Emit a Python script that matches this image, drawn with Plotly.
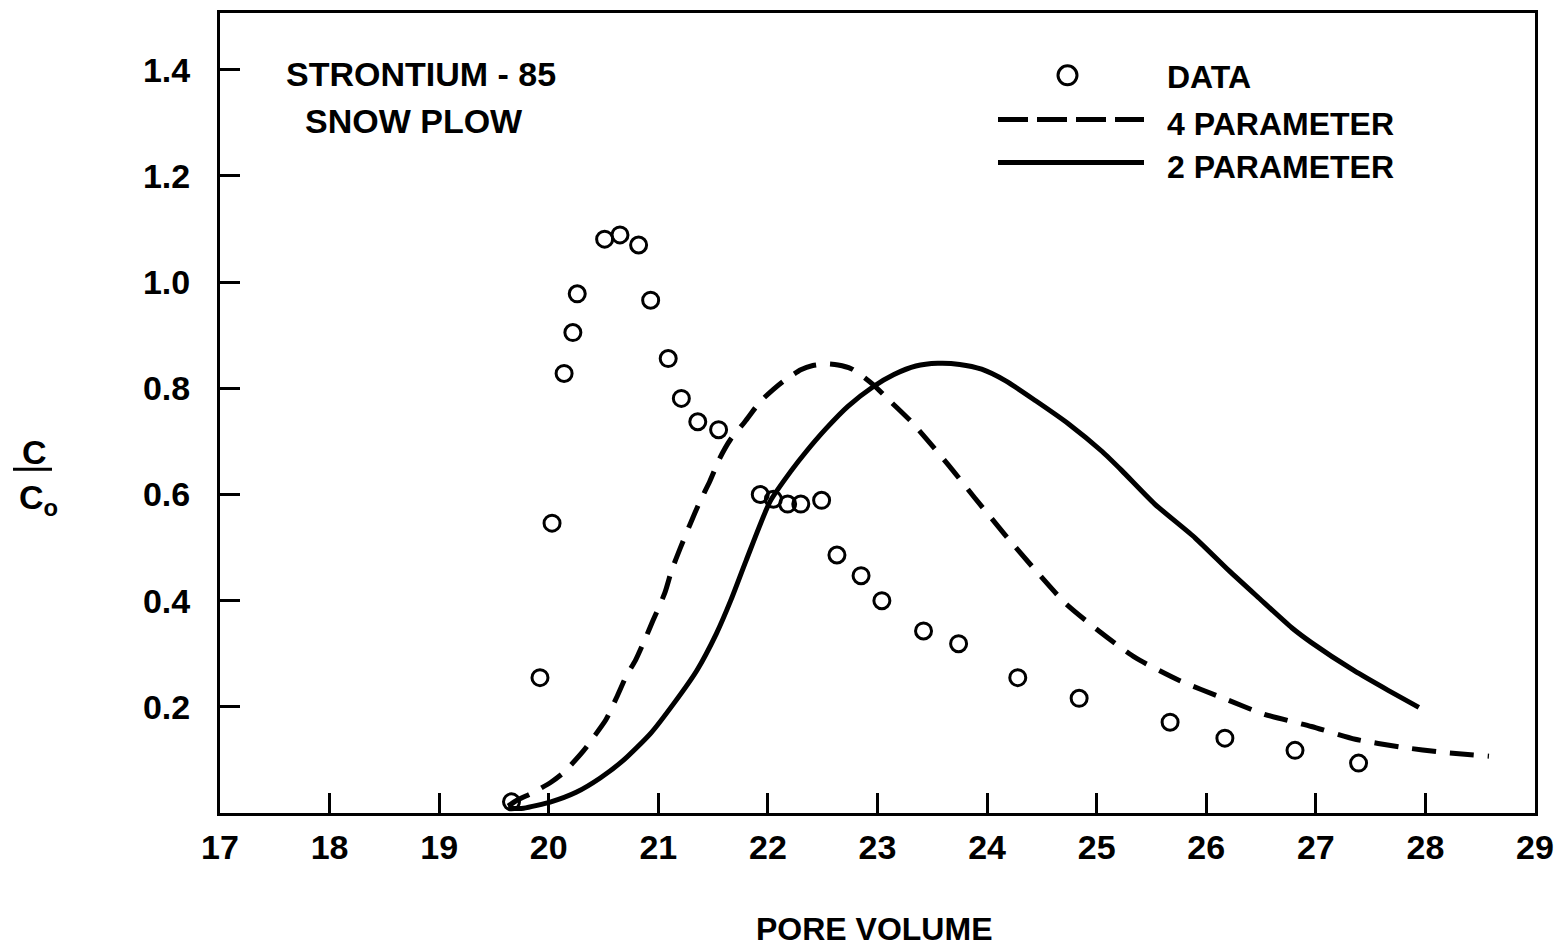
import plotly.graph_objects as go

# Measured breakthrough data (pore volume, C/C0)
data_pv = [19.66, 19.92, 20.03, 20.14, 20.22, 20.26, 20.51, 20.65, 20.82, 20.93,
           21.09, 21.21, 21.36, 21.55, 21.93, 22.05, 22.18, 22.30, 22.49, 22.63,
           22.85, 23.04, 23.42, 23.74, 24.28, 24.84, 25.67, 26.17, 26.81, 27.39]
data_c = [0.021, 0.255, 0.546, 0.828, 0.905, 0.978, 1.081, 1.089, 1.070, 0.966,
          0.856, 0.781, 0.737, 0.722, 0.600, 0.591, 0.582, 0.582, 0.589, 0.486,
          0.447, 0.400, 0.343, 0.319, 0.255, 0.216, 0.171, 0.141, 0.118, 0.094]

# 4-parameter model curve
fit4_pv = [19.63, 19.71, 19.86, 20.02, 20.14, 20.32, 20.41, 20.52, 20.62, 20.71,
           20.79, 20.88, 20.95, 21.06, 21.12, 21.20, 21.29, 21.38, 21.47, 21.56,
           21.66, 21.79, 21.93, 22.05, 22.14, 22.30, 22.41, 22.53, 22.64, 22.76,
           22.87, 22.96, 23.12, 23.30, 23.44, 23.65, 23.89, 24.16, 24.43,
           24.71, 25.02, 25.35, 25.75, 26.16, 26.53, 26.96, 27.36, 27.78, 28.17,
           28.58]
fit4_c = [0.013, 0.024, 0.039, 0.058, 0.077, 0.118, 0.143, 0.175, 0.218, 0.259,
          0.287, 0.328, 0.362, 0.415, 0.456, 0.499, 0.544, 0.587, 0.625, 0.668,
          0.704, 0.737, 0.775, 0.798, 0.813, 0.835, 0.843, 0.846, 0.844, 0.837,
          0.822, 0.807, 0.775, 0.739, 0.706, 0.655, 0.593, 0.525, 0.460,
          0.396, 0.343, 0.293, 0.250, 0.216, 0.186, 0.163, 0.139, 0.124, 0.114,
          0.107]

# 2-parameter model curve
fit2_pv = [19.63, 19.77, 20.02, 20.25, 20.47, 20.68, 20.93, 21.14, 21.35, 21.53,
           21.66, 21.80, 22.02, 22.21, 22.35, 22.53, 22.73, 22.96, 23.15, 23.35,
           23.55, 23.75, 23.95, 24.17, 24.44, 24.75, 25.05, 25.23, 25.53, 25.90,
           26.21, 26.48, 26.78, 26.96, 27.35, 27.66, 27.94]
fit2_c = [0.009, 0.009, 0.021, 0.039, 0.066, 0.099, 0.150, 0.206, 0.268, 0.338,
          0.400, 0.475, 0.587, 0.644, 0.681, 0.724, 0.766, 0.803, 0.826, 0.842,
          0.847, 0.845, 0.836, 0.814, 0.777, 0.732, 0.681, 0.645, 0.582, 0.518,
          0.456, 0.405, 0.349, 0.321, 0.268, 0.231, 0.199]

x_ticks = list(range(17, 30))
x_ticktext = ["<b>%d</b>" % v for v in x_ticks]
y_ticks = [0.2, 0.4, 0.6, 0.8, 1.0, 1.2, 1.4]
y_ticktext = ["<b>%.1f</b>" % v for v in y_ticks]

FONT = "Liberation Sans, Arial, sans-serif"
INK = "#000000"

W, H = 1566, 952
L, R, T, B = 220, 31, 10, 139
PW, PH = W - L - R, H - T - B


def px(x):
    return (x - L) / PW


def py(y):
    return (H - B - y) / PH


fig = go.Figure()

fig.add_trace(go.Scatter(
    x=fit4_pv, y=fit4_c, mode="lines", name="4 PARAMETER",
    line=dict(color=INK, width=5, dash="24px,14px", shape="spline", smoothing=0.6),
))
fig.add_trace(go.Scatter(
    x=fit2_pv, y=fit2_c, mode="lines", name="2 PARAMETER",
    line=dict(color=INK, width=5, shape="spline", smoothing=0.6),
))
fig.add_trace(go.Scatter(
    x=data_pv, y=data_c, mode="markers", name="DATA",
    marker=dict(symbol="circle-open", size=16, color=INK, line=dict(width=3, color=INK)),
))

axis_common = dict(
    showline=True, linecolor=INK, linewidth=3, mirror=True,
    ticks="inside", tickcolor=INK, tickwidth=3, ticklen=20,
    showgrid=False, zeroline=False,
    tickfont=dict(family=FONT, size=34, color=INK),
)

fig.update_xaxes(
    range=[17.0, 29.0], tickmode="array", tickvals=x_ticks, ticktext=x_ticktext,
    ticklabelstandoff=2, **axis_common,
)
fig.update_yaxes(
    range=[0, 1.507], tickmode="array", tickvals=y_ticks, ticktext=y_ticktext,
    ticklabelstandoff=20, **axis_common,
)

annotations = [
    dict(text="<b>STRONTIUM - 85</b>", x=px(421), y=py(71), size=34),
    dict(text="<b>SNOW PLOW</b>", x=px(414), y=py(118), size=34),
    dict(text="<b>DATA</b>", x=px(1165), y=py(74), xanchor="left", size=32),
    dict(text="<b>4 PARAMETER</b>", x=px(1165), y=py(121), xanchor="left", size=32),
    dict(text="<b>2 PARAMETER</b>", x=px(1165), y=py(165), xanchor="left", size=32),
    dict(text="<b>PORE VOLUME</b>", x=px(874), y=py(929), size=32),
    dict(text="<b>C</b>", x=px(34), y=py(451), size=34),
    dict(text="<b>C<sub>o</sub></b>", x=px(38), y=py(498), size=34),
]
for a in annotations:
    a.setdefault("xanchor", "center")
    size = a.pop("size")
    fig.add_annotation(
        xref="paper", yref="paper", showarrow=False, yanchor="middle",
        font=dict(family=FONT, size=size, color=INK), **a,
    )

shapes = [
    # legend keys
    dict(type="circle", x0=px(1058), x1=px(1077), y0=py(63), y1=py(82),
         line=dict(color=INK, width=3)),
    dict(type="line", x0=px(998), x1=px(1144), y0=py(117), y1=py(117),
         line=dict(color=INK, width=5, dash="30px,9px")),
    dict(type="line", x0=px(998), x1=px(1144), y0=py(160), y1=py(160),
         line=dict(color=INK, width=5)),
    # fraction bar of the C/Co axis label
    dict(type="line", x0=px(13), x1=px(52), y0=py(468), y1=py(468),
         line=dict(color=INK, width=3)),
]
for s in shapes:
    fig.add_shape(xref="paper", yref="paper", **s)

fig.update_layout(
    width=W, height=H,
    margin=dict(l=L, r=R, t=T, b=B),
    paper_bgcolor="white", plot_bgcolor="white",
    showlegend=False,
)

fig.write_html("out.html")
